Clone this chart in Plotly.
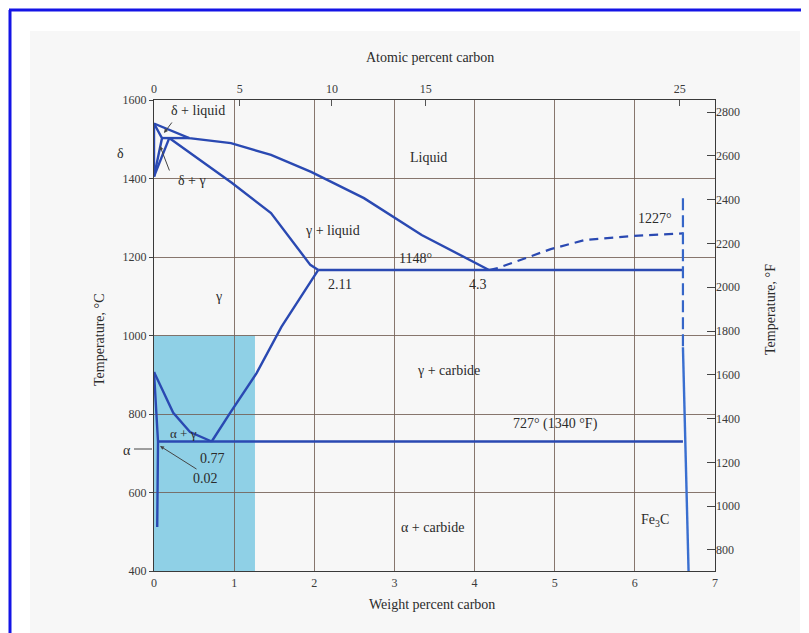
import plotly.graph_objects as go

# ---------------- data (wt% C, temperature °C) ----------------
liquidus_wt = [0.0, 0.44, 0.96, 1.46, 1.96, 2.62, 3.34, 4.18]
liquidus_T = [1540, 1503, 1490, 1460, 1417, 1350, 1256, 1167]

delta_wt = [0.0, 0.10, 0.0]
delta_T = [1540, 1503, 1405]

fe_axis_wt = [0.0, 0.0]
fe_axis_T = [1405, 1540]

peritectic_wt = [0.10, 0.44]
peritectic_T = [1503, 1503]

gamma_delta_wt = [0.0, 0.19]
gamma_delta_T = [1405, 1503]

solidus_wt = [0.19, 0.97, 1.46, 1.95, 2.05]
solidus_T = [1503, 1389, 1312, 1180, 1167]

eutectic_wt = [2.05, 6.60]
eutectic_T = [1167, 1167]

acm_wt = [0.72, 0.95, 1.28, 1.59, 2.05]
acm_T = [730, 803, 904, 1022, 1167]

a3_wt = [0.0, 0.24, 0.45, 0.72]
a3_T = [907, 803, 754, 730]

eutectoid_wt = [0.05, 6.60]
eutectoid_T = [730, 730]

alpha_wt = [0.0, 0.05, 0.04]
alpha_T = [907, 730, 512]

graphite_wt = [4.18, 4.29, 4.95, 5.37, 5.99, 6.55, 6.60]
graphite_T = [1167, 1172, 1220, 1243, 1254, 1259, 1260]

fe3c_dash_wt = [6.60, 6.60]
fe3c_dash_T = [1350, 970]
fe3c_wt = [6.60, 6.67]
fe3c_T = [970, 400]

shade_wt = [0.0, 1.26]
shade_T = [400, 1000]

temp_ticks_C = [400, 600, 800, 1000, 1200, 1400, 1600]
temp_ticks_F = [800, 1000, 1200, 1400, 1600, 1800, 2000, 2200, 2400, 2600, 2800]
wt_ticks = [0, 1, 2, 3, 4, 5, 6, 7]
atomic_labels = ["0", "5", "10", "15", "25"]
atomic_pos_wt = [0.0, 1.07, 2.22, 3.39, 6.56]

# ---------------- layout geometry helpers ----------------
# page is offset by the 8px default body margin of the html page
OFF = 8
W, H = 809 - OFF, 633 - OFF
L, R, T, B = 154, 715, 100, 571          # plot edges in page pixels
def xp(px):
    return (px - L) / (R - L)
def yp(py):
    return (B - py) / (B - T)
def X(px):
    return (px - L) / (R - L) * 7.0
def Y(py):
    return 400 + (B - py) / (B - T) * 1200.0

BLUE = "#2a49b2"
SERIF = "Liberation Serif"
TXT = "#2b2b2b"

fig = go.Figure()

def add_line(x, y, dash="solid", color=BLUE, width=2.4):
    fig.add_trace(go.Scatter(x=x, y=y, mode="lines",
                             line=dict(color=color, width=width, dash=dash),
                             hoverinfo="skip"))

add_line(liquidus_wt, liquidus_T)
add_line(delta_wt, delta_T)
add_line(fe_axis_wt, fe_axis_T)
add_line(peritectic_wt, peritectic_T)
add_line(gamma_delta_wt, gamma_delta_T)
add_line(solidus_wt, solidus_T)
add_line(eutectic_wt, eutectic_T)
add_line(acm_wt, acm_T)
add_line(a3_wt, a3_T)
add_line(eutectoid_wt, eutectoid_T)
add_line(alpha_wt, alpha_T)
add_line(graphite_wt, graphite_T, dash="9px,6px", width=2.2)
add_line(fe3c_dash_wt, fe3c_dash_T, dash="12px,5px", color="#3566c8", width=2.2)
add_line(fe3c_wt, fe3c_T, color="#3a6fd0", width=2.4)

# invisible trace to activate secondary axes
fig.add_trace(go.Scatter(x=[0], y=[temp_ticks_F[0]], xaxis="x2", yaxis="y2",
                         mode="markers", marker=dict(opacity=0), hoverinfo="skip"))

shapes = []
# scanned page tint
shapes.append(dict(type="rect", xref="paper", yref="paper", layer="below",
                   x0=xp(30), x1=xp(800), y0=yp(31), y1=yp(633),
                   fillcolor="#f7f7f7", line=dict(width=0)))
# blue shaded region
shapes.append(dict(type="rect", xref="x", yref="y", layer="below",
                   x0=shade_wt[0], x1=shade_wt[1], y0=shade_T[0], y1=shade_T[1],
                   fillcolor="#8fd0e6", line=dict(width=0)))
# blue outer frame (top and left)
shapes.append(dict(type="line", xref="paper", yref="paper",
                   x0=xp(9), x1=xp(809), y0=yp(10), y1=yp(10),
                   line=dict(color="#1414e6", width=3)))
shapes.append(dict(type="line", xref="paper", yref="paper",
                   x0=xp(10), x1=xp(10), y0=yp(10), y1=yp(633),
                   line=dict(color="#1414e6", width=3)))
# alpha pointer dash at left axis
shapes.append(dict(type="line", xref="paper", yref="paper",
                   x0=xp(134), x1=xp(152), y0=yp(449), y1=yp(449),
                   line=dict(color="#444", width=1)))

ann = []
def label(text, px, py, size=14):
    ann.append(dict(x=X(px), y=Y(py), xref="x", yref="y", text=text, showarrow=False,
                    font=dict(family=SERIF, size=size, color=TXT),
                    xanchor="center", yanchor="middle"))

def plabel(text, px, py, size=14, angle=0):
    ann.append(dict(x=xp(px), y=yp(py), xref="paper", yref="paper", text=text,
                    showarrow=False, textangle=angle,
                    font=dict(family=SERIF, size=size, color=TXT),
                    xanchor="center", yanchor="middle"))

label("Liquid", 428, 157)
label("γ + liquid", 332, 230)
label("1148°", 415, 258)
label("2.11", 340, 284)
label("4.3", 478, 284)
label("γ", 218, 296)
label("1227°", 655, 218)
label("γ + carbide", 448, 370)
label("727° (1340 °F)", 555, 424)
label("α + γ", 183, 433, size=13)
label("0.77", 212, 458)
label("0.02", 205, 478)
label("α + carbide", 432, 527)
label("Fe<sub>3</sub>C", 655, 520)
label("δ + liquid", 198, 110)
label("δ + γ", 192, 180)

# δ and α labels outside the plot
plabel("δ", 120, 153)
plabel("α", 127, 450)

def arrow(hx, hy, tx, ty):
    ann.append(dict(x=X(hx), y=Y(hy), xref="x", yref="y", ax=tx - hx, ay=ty - hy,
                    axref="pixel", ayref="pixel", text="", showarrow=True,
                    arrowhead=2, arrowsize=0.8, arrowwidth=1, arrowcolor="#444"))

arrow(150, 143, 128, 151)     # δ
arrow(160, 146, 170, 172)     # δ + γ
arrow(164, 133, 173, 121)     # δ + liquid
arrow(160, 446, 198, 470)     # 0.02

# axis titles
plabel("Atomic percent carbon", 430, 57)
plabel("Weight percent carbon", 432, 604)
plabel("Temperature, °C", 99, 340, angle=-90)
plabel("Temperature, °F", 770, 310, angle=-90)

GRID = "rgba(115,95,85,0.85)"
tickfont = dict(family=SERIF, size=12, color="#3a3a3a")

fig.update_layout(
    width=W, height=H,
    margin=dict(l=L - OFF, r=W - (R - OFF), t=T - OFF, b=H - (B - OFF)),
    paper_bgcolor="white", plot_bgcolor="#fbfbfb",
    showlegend=False,
    shapes=shapes, annotations=ann,
    xaxis=dict(range=[0, 7], tickvals=wt_ticks, ticktext=[str(v) for v in wt_ticks],
               showgrid=True, gridcolor=GRID, gridwidth=1, zeroline=False,
               showline=True, linecolor="#3a3a3a", linewidth=1.2, mirror=True,
               ticks="", tickfont=tickfont),
    yaxis=dict(range=[400, 1600], tickvals=temp_ticks_C, ticktext=[str(v) for v in temp_ticks_C],
               showgrid=True, gridcolor=GRID, gridwidth=1, zeroline=False,
               showline=True, linecolor="#3a3a3a", linewidth=1.2, mirror=True,
               ticks="outside", ticklen=4, tickcolor="#444", tickfont=tickfont),
    xaxis2=dict(range=[0, 7], overlaying="x", side="top", anchor="y",
                tickvals=atomic_pos_wt, ticktext=atomic_labels,
                showgrid=False, zeroline=False, showline=False,
                ticks="inside", ticklen=6, tickcolor="#555", tickfont=tickfont,
                ticklabelstandoff=4),
    yaxis2=dict(range=[704, 2855], overlaying="y", side="right", anchor="x",
                tickvals=temp_ticks_F, ticktext=[str(v) for v in temp_ticks_F],
                showgrid=False, zeroline=False, showline=False,
                ticks="inside", ticklen=8, tickcolor="#444", tickfont=tickfont),
)

fig.write_html("out.html")
